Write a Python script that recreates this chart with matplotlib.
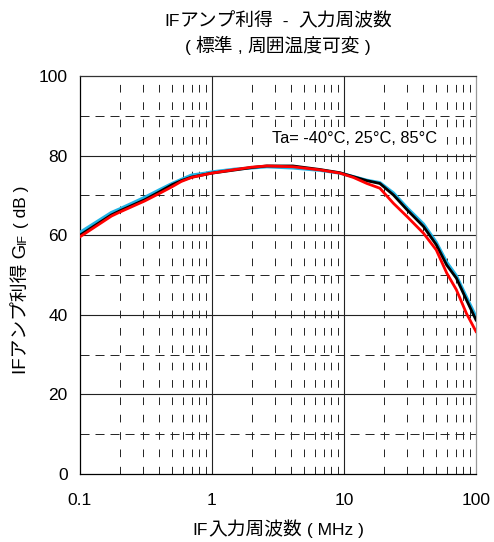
import matplotlib
matplotlib.use("Agg")
import matplotlib.pyplot as plt
import numpy as np

plt.rcParams['font.family'] = ['Liberation Sans', 'Noto Sans CJK JP', 'DejaVu Sans']
plt.rcParams['lines.scale_dashes'] = False

freq = [0.1, 0.173, 0.2, 0.309, 0.4, 0.5, 0.585, 0.7, 0.9, 1.0, 1.5, 2.0, 2.6, 4.1, 6.6, 9.3,
        11.8, 14.9, 18.7, 23.7, 30, 40, 50, 60, 71, 84.5, 100]
gain_m40 = [60.7, 65.7, 66.6, 69.5, 71.4, 73.0, 74.0, 75.1, 75.6, 75.9, 76.6, 76.9, 77.2, 76.9, 76.3, 75.6,
            74.7, 73.8, 73.2, 70.6, 66.9, 62.8, 58.2, 53.2, 49.8, 44.5, 39.5]
gain_25 = [60.0, 65.1, 66.1, 68.9, 70.9, 72.7, 73.7, 74.6, 75.3, 75.6, 76.4, 77.0, 77.4, 77.4, 76.5, 75.7,
           74.7, 73.7, 73.0, 70.1, 66.4, 62.2, 57.6, 52.5, 49.2, 43.8, 38.7]
gain_85 = [59.6, 64.8, 65.8, 68.6, 70.5, 72.2, 73.5, 74.5, 75.3, 75.6, 76.5, 77.1, 77.4, 77.2, 76.4, 75.6,
           74.5, 73.0, 71.8, 68.0, 64.7, 60.5, 56.3, 50.5, 46.3, 40.4, 35.8]

xticks = [0.1, 1, 10, 100]
xticklabels = ['0.1', '1', '10', '100']
yticks = [0, 20, 40, 60, 80, 100]

W, H = 494, 542
fig = plt.figure(figsize=(W/100, H/100), dpi=100)
ax = fig.add_axes([80/W, 1-474/H, 396/W, 398/H])
ax.set_xscale('log')
ax.set_xlim(0.1, 100)
ax.set_ylim(0, 100)

gc = '#222222'
for d in [1, 10]:
    ax.axvline(d, color=gc, lw=0.8, zorder=1)
for yv in [20, 40, 60, 80]:
    ax.axhline(yv, color=gc, lw=0.8, zorder=1)
for yv in [10, 30, 50, 70, 90]:
    ax.axhline(yv, color=gc, lw=0.7, dashes=(6.5, 4.3), zorder=1)
for dec in [0.1, 1, 10]:
    for m in range(2, 10):
        ax.axvline(dec*m, color=gc, lw=0.7, dashes=(5.5, 7.0), zorder=1)

ax.plot(freq, gain_m40, color='#22b4e6', lw=2.3, zorder=3)
ax.plot(freq, gain_25, color='black', lw=2.0, zorder=4)
ax.plot(freq, gain_85, color='#ff0000', lw=2.0, zorder=5)

ax.set_xticks(xticks)
ax.set_xticklabels(xticklabels)
ax.xaxis.set_minor_locator(matplotlib.ticker.NullLocator())
ax.set_yticks(yticks)
ax.tick_params(length=0, labelsize=12.5, pad=9)
ax.tick_params(axis='x', pad=14)

for s in ax.spines.values():
    s.set_linewidth(0.9)
ax.spines['right'].set_color('#999999')
ax.spines['top'].set_color('#333333')

ax.text(0.694, 0.842, 'Ta= -40°C, 25°C, 85°C', transform=ax.transAxes,
        ha='center', va='center', fontsize=11.8,
        bbox=dict(facecolor='white', edgecolor='none', pad=3), zorder=6)

renderer = fig.canvas.get_renderer()


def pieces_text(pieces, cx, cy, rotation=0):
    """Draw a run of text pieces (string, size, shift) centred at pixel (cx, cy)."""
    widths = []
    for s, size, sh in pieces:
        t = fig.text(0, 0, s, fontsize=size)
        widths.append(t.get_window_extent(renderer).width)
        t.remove()
    total = sum(widths)
    pos = -total / 2
    for (s, size, sh), w in zip(pieces, widths):
        if rotation == 0:
            x, y = cx + pos, cy - sh
        else:
            x, y = cx + sh, cy + pos
        fig.text(x / W, y / H, s, fontsize=size, ha='left', va='baseline',
                 rotation=rotation, rotation_mode='anchor')
        pos += w


L, J = 12.5, 13.5
cx = (80 + 476) / 2
pieces_text([('IF', L, 0), ('アンプ利得', J, 0), ('  -  ', L, 0), ('入力周波数', J, 0)], cx, H - 26)
pieces_text([('( ', L, 0), ('標準', J, 0), (' , ', L, 0), ('周囲温度可変', J, 0), (' )', L, 0)], cx, H - 52)
pieces_text([('IF', L, 0), ('入力周波数', J, 0), (' ( MHz )', L, 0)], cx, H - 535)
pieces_text([('IFアンプ利得 G', J, 0), ('IF', 9, 0), (' ( dB )', L, 0)], 26, H - 280, rotation=90)

fig.savefig('out.png', dpi=100)
